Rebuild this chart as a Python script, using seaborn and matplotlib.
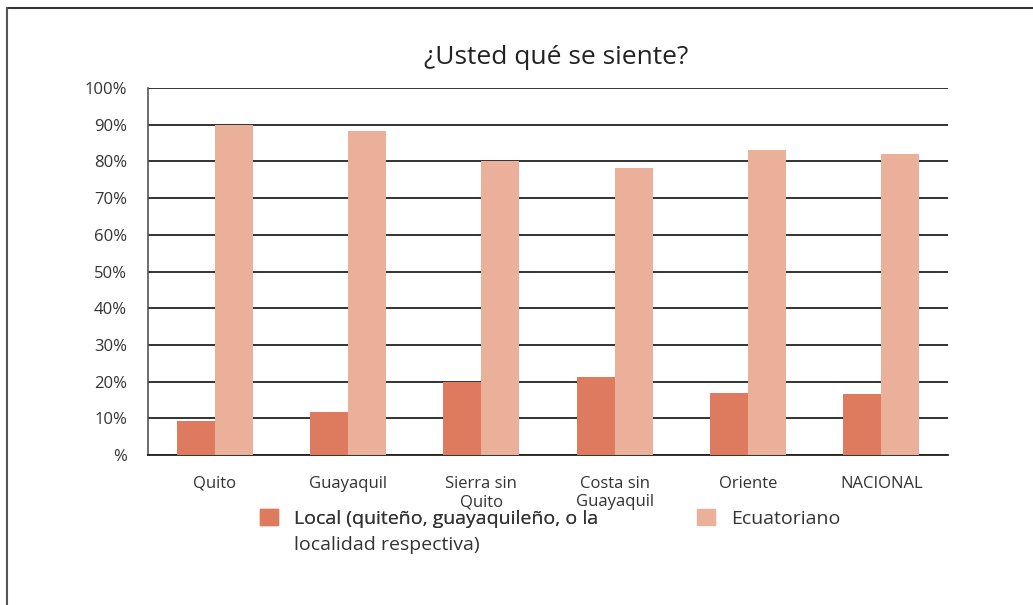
import pandas as pd
import matplotlib.pyplot as plt
import matplotlib.patches as mpatches
import matplotlib.lines as mlines
import seaborn as sns

# Data
regions = ["Quito", "Guayaquil", "Sierra sin\nQuito", "Costa sin\nGuayaquil", "Oriente", "NACIONAL"]
local = [9.3, 11.8, 19.9, 21.3, 16.9, 16.7]
ecuatoriano = [90.0, 88.2, 80.0, 78.2, 83.1, 82.0]
series_names = ["Local", "Ecuatoriano"]
legend_local = ["Local (quiteño, guayaquileño, o la", "localidad respectiva)"]
y_ticks = [0, 10, 20, 30, 40, 50, 60, 70, 80, 90, 100]
y_labels = ["%"] + [f"{v}%" for v in y_ticks[1:]]

colors = ["#DE7B5E", "#EBB09A"]
text_color = "#333333"

df = pd.DataFrame({
    "region": regions * 2,
    "serie": [series_names[0]] * len(regions) + [series_names[1]] * len(regions),
    "valor": local + ecuatoriano,
})

sns.set_style("white")
plt.rcParams["font.family"] = ["Open Sans", "DejaVu Sans"]

fig = plt.figure(figsize=(10.33, 6.05), dpi=100)
ax = fig.add_axes([148 / 1033, 150 / 605, 800 / 1033, 367 / 605])

sns.barplot(data=df, x="region", y="valor", hue="serie", palette=colors,
            width=0.57, saturation=1, ax=ax, legend=False, zorder=3,
            linewidth=0, edgecolor="none")

ax.set_ylim(0, 100)
ax.set_xlim(-0.5, len(regions) - 0.5)
ax.set_yticks(y_ticks)
ax.set_yticklabels(y_labels, fontsize=12, color=text_color)
ax.tick_params(axis="x", labelsize=12, colors=text_color, length=0, pad=15)
ax.tick_params(axis="y", length=0, pad=15)
ax.set_xlabel("")
ax.set_ylabel("")

# dark horizontal gridlines behind the bars
ax.grid(axis="y", color="#222222", linewidth=1.3, zorder=0)
ax.set_axisbelow(True)
for side in ["top", "right"]:
    ax.spines[side].set_visible(False)
ax.spines["left"].set_color("#555555")
ax.spines["left"].set_linewidth(1.2)
ax.spines["bottom"].set_color("#222222")
ax.spines["bottom"].set_linewidth(1.3)

fig.text(556 / 1033, 1 - 57 / 605, "¿Usted qué se siente?", ha="center", va="center",
         fontsize=19, color="#222222")

# legend entries placed separately, as in the reference
h1 = mpatches.Patch(color=colors[0])
h2 = mpatches.Patch(color=colors[1])
leg_kw = dict(loc="upper left", frameon=False, fontsize=14, handlelength=0.9,
              handleheight=0.9, handletextpad=0.85, borderpad=0, borderaxespad=0,
              labelcolor=text_color)
leg1 = fig.legend([h1], [legend_local[0]], bbox_to_anchor=(260 / 1033, 1 - 509 / 605), **leg_kw)
leg2 = fig.legend([h2], [series_names[1]], bbox_to_anchor=(697 / 1033, 1 - 509 / 605), **leg_kw)
fig.add_artist(leg1)
fig.text(294 / 1033, 1 - 545 / 605, legend_local[1], ha="left", va="center",
         fontsize=14, color=text_color)

# outer frame (top and left edges only)
fig.add_artist(mlines.Line2D([7 / 1033, 1], [1 - 8 / 605, 1 - 8 / 605],
                             transform=fig.transFigure, color="#333333", linewidth=1.5))
fig.add_artist(mlines.Line2D([7 / 1033, 7 / 1033], [0, 1 - 8 / 605],
                             transform=fig.transFigure, color="#555555", linewidth=1.5))

fig.savefig("out.png", dpi=100)
